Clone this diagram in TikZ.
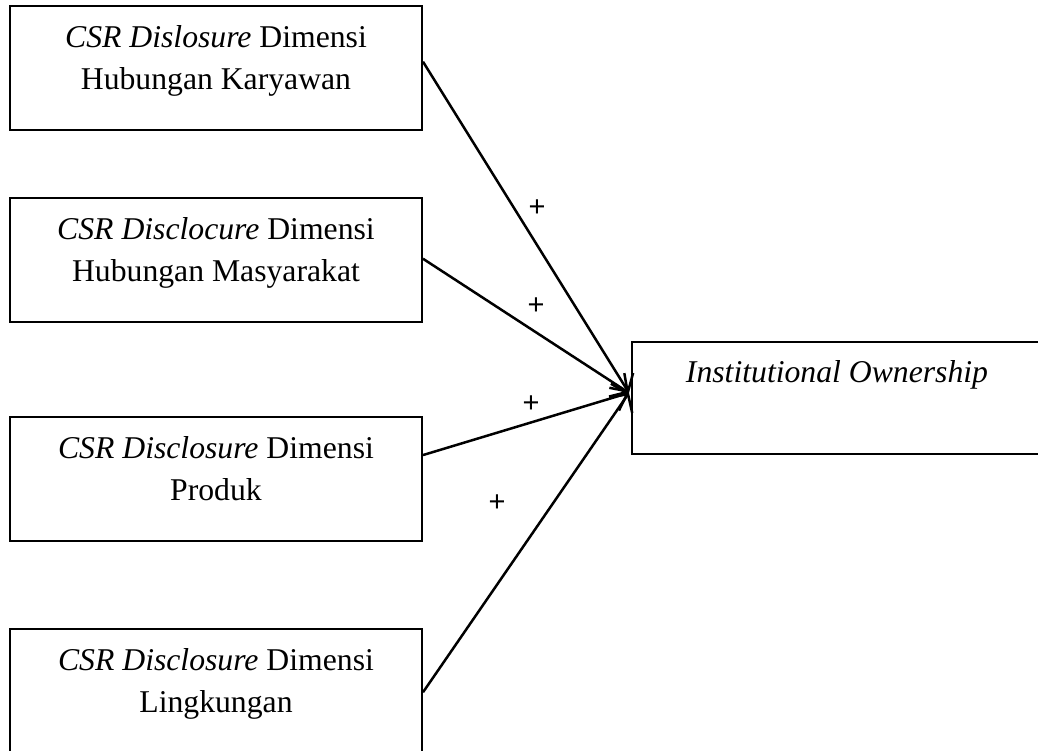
\documentclass[tikz,border=0pt]{standalone}
\usepackage{fontspec}
\setmainfont{Liberation Serif}
\newfontfamily\plusfont{Liberation Sans}
\usetikzlibrary{arrows.meta,calc}
\begin{document}
\begin{tikzpicture}[x=1pt,y=-1pt,
  box/.style={draw,line width=2pt,minimum width=412pt,minimum height=124pt,inner sep=0pt},
  outbox/.style={draw,line width=2pt,minimum width=410pt,minimum height=112pt,inner sep=0pt},
  lbl/.style={anchor=base,inner sep=0pt,font=\fontsize{31.7}{42}\selectfont},
  conn/.style={line width=2.5pt,-{Straight Barb[length=13pt,width=28pt,line width=2.5pt]}},
  pl/.style={font=\plusfont\fontsize{29}{30}\selectfont,inner sep=0pt}]
\useasboundingbox (0,0) rectangle (1038,750);
% boxes
\node[box] (b1) at (216,68) {};
\node[box] (b2) at (216,260) {};
\node[box] (b3) at (216,479) {};
\node[box] (b4) at (216,691) {};
\node[outbox] (out) at (837,398) {};
% texts
\node[lbl] (t1) at (216,47) {\begin{tabular}[t]{@{}c@{}}\textit{CSR Dislosure} Dimensi\\Hubungan Karyawan\end{tabular}};
\node[lbl] (t2) at (216,239) {\begin{tabular}[t]{@{}c@{}}\textit{CSR Disclocure} Dimensi\\Hubungan Masyarakat\end{tabular}};
\node[lbl] (t3) at (216,458) {\begin{tabular}[t]{@{}c@{}}\textit{CSR Disclosure} Dimensi\\Produk\end{tabular}};
\node[lbl] (t4) at (216,670) {\begin{tabular}[t]{@{}c@{}}\textit{CSR Disclosure} Dimensi\\Lingkungan\end{tabular}};
\node[lbl] (t5) at (837,382) {\textit{Institutional Ownership}};
% target point
\coordinate (tip) at ($(out.north west)!0.455!(out.south west)+(-2,0)$);
% connectors
\draw[conn] ($(b1.north east)!0.45!(b1.south east)$) -- (tip);
\draw[conn] ($(b2.north east)!0.49!(b2.south east)$) -- (tip);
\draw[conn] ($(b3.north east)!0.31!(b3.south east)$) -- (tip);
\draw[conn] ($(b4.north east)!0.51!(b4.south east)$) -- (tip);
% plus signs
\node[pl] (p1) at (537,208) {+};
\node[pl] (p2) at (536,306) {+};
\node[pl] (p3) at (531,404) {+};
\node[pl] (p4) at (497,503) {+};
\end{tikzpicture}
\end{document}
